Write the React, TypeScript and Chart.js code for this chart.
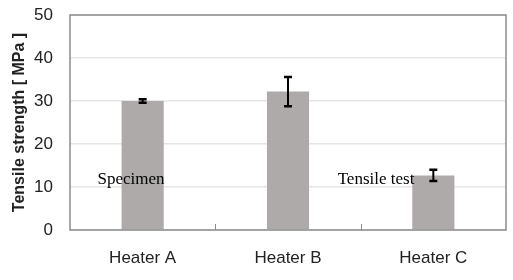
import React, { useEffect, useRef } from "react";
import { Chart, registerables } from "chart.js";

Chart.register(...registerables);

const categories = ["Heater A", "Heater B", "Heater C"];
const strength = [30.0, 32.2, 12.7];
const errors = [0.4, 3.4, 1.3];
const yTicks = [0, 10, 20, 30, 40, 50];
const notes = [
  { text: "Specimen", x: 131, y: 180 },
  { text: "Tensile test", x: 376, y: 180 },
];

const SANS = "'Liberation Sans', Arial, sans-serif";
const SERIF = "'Liberation Serif', 'Times New Roman', serif";

const extras = {
  id: "extras",
  afterDatasetsDraw(chart: any) {
    const { ctx, chartArea: a, scales } = chart;
    const x = scales.x;
    const y = scales.y;
    ctx.save();
    // frame
    ctx.strokeStyle = "#8c8c8c";
    ctx.lineWidth = 1.5;
    ctx.strokeRect(a.left, a.top, a.right - a.left, a.bottom - a.top);
    // category boundary ticks
    ctx.lineWidth = 1;
    for (let i = 0; i < categories.length - 1; i++) {
      const px = (x.getPixelForValue(i) + x.getPixelForValue(i + 1)) / 2;
      ctx.beginPath();
      ctx.moveTo(Math.round(px) + 0.5, a.bottom);
      ctx.lineTo(Math.round(px) + 0.5, a.bottom - 6);
      ctx.stroke();
    }
    // error bars
    ctx.strokeStyle = "#000";
    strength.forEach((v, i) => {
      const cx = x.getPixelForValue(i);
      const top = y.getPixelForValue(v + errors[i]);
      const bot = y.getPixelForValue(v - errors[i]);
      ctx.lineWidth = 2;
      ctx.beginPath();
      ctx.moveTo(cx, top);
      ctx.lineTo(cx, bot);
      ctx.stroke();
      ctx.lineWidth = 2.5;
      ctx.beginPath();
      ctx.moveTo(cx - 4, top);
      ctx.lineTo(cx + 4, top);
      ctx.moveTo(cx - 4, bot);
      ctx.lineTo(cx + 4, bot);
      ctx.stroke();
    });
    // annotations
    ctx.fillStyle = "#000";
    ctx.font = `17px ${SERIF}`;
    ctx.textAlign = "center";
    ctx.textBaseline = "middle";
    notes.forEach((n) => ctx.fillText(n.text, n.x, n.y));
    ctx.restore();
  },
};

export default function App() {
  const ref = useRef<HTMLCanvasElement>(null);
  useEffect(() => {
    const chart = new Chart(ref.current!, {
      type: "bar",
      data: {
        labels: categories,
        datasets: [
          {
            data: strength,
            backgroundColor: "#aeaaa9",
            borderWidth: 0,
            categoryPercentage: 1,
            barPercentage: 0.29,
          },
        ],
      },
      options: {
        responsive: false,
        animation: false,
        layout: { padding: { top: 15, right: 7, left: 0, bottom: 0 } },
        plugins: { legend: { display: false }, tooltip: { enabled: false } },
        scales: {
          x: {
            grid: { display: false },
            border: { display: false },
            ticks: {
              color: "#222",
              font: { family: SANS, size: 17 },
              padding: 10,
            },
            afterFit: (s: any) => {
              s.height = 50;
              s.paddingLeft = 0;
              s.paddingRight = 0;
            },
          },
          y: {
            min: 0,
            max: 50,
            afterBuildTicks: (s: any) => {
              s.ticks = yTicks.map((v) => ({ value: v }));
            },
            grid: { color: "#e6e6e6", lineWidth: 1.5, drawTicks: false },
            border: { display: false },
            ticks: {
              color: "#222",
              font: { family: SANS, size: 17 },
              padding: 17,
            },
            title: {
              display: true,
              text: "Tensile strength [ MPa ]",
              color: "#222",
              font: { family: SANS, size: 16, weight: "bold" },
              padding: { top: 10, bottom: 0 },
            },
            afterFit: (s: any) => {
              s.width = 70;
              s.paddingTop = 0;
              s.paddingBottom = 0;
            },
          },
        },
      },
      plugins: [extras],
    });
    return () => chart.destroy();
  }, []);
  return (
    <div style={{ position: "absolute", left: 0, top: 0, width: 513, height: 280, background: "#fff" }}>
      <canvas ref={ref} width={513} height={280} />
    </div>
  );
}
